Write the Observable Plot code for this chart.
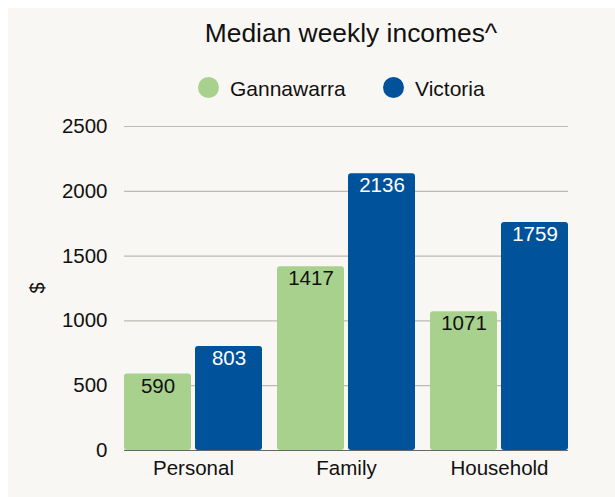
<!DOCTYPE html>
<html>
<head>
<meta charset="utf-8">
<script src="https://cdn.jsdelivr.net/npm/d3@7"></script>
<script src="https://cdn.jsdelivr.net/npm/@observablehq/plot@0.6"></script>
<style>
  html, body { margin: 0; padding: 0; background: #ffffff; }
  body { width: 615px; height: 497px; overflow: hidden; position: relative; font-family: "Liberation Sans", Arial, sans-serif; }
  #panel { position: absolute; left: 8px; top: 8px; width: 607px; height: 489px; background: #f9f7f3; overflow: hidden; }
  #title { position: absolute; left: 143px; width: 400px; top: 12px; text-align: center; font-size: 26.4px; line-height: 26px; color: #111; white-space: nowrap; }
  .dot { position: absolute; width: 21px; height: 21px; border-radius: 50%; }
  .lg { position: absolute; font-size: 21px; line-height: 21px; color: #111; white-space: nowrap; }
  #ylab { position: absolute; left: 19px; top: 270px; width: 20px; height: 20px; font-size: 20px; line-height: 20px; text-align: center; transform: rotate(-90deg); color: #111; }
  #chart { position: absolute; left: 0; top: 0; }
</style>
</head>
<body>
<div id="panel">
  <div id="title">Median weekly incomes^</div>
  <div class="dot" style="left:190px; top:69px; background:#a9d18e"></div>
  <div class="lg" style="left:222px; top:70px">Gannawarra</div>
  <div class="dot" style="left:375px; top:69px; background:#00529b"></div>
  <div class="lg" style="left:407px; top:70px">Victoria</div>
  <div id="ylab">$</div>
  <div id="chart"></div>
</div>
<script>
const categories = ["Personal", "Family", "Household"];
const gannawarra = [590, 1417, 1071];
const victoria = [803, 2136, 1759];
const yTicks = [0, 500, 1000, 1500, 2000, 2500];

const green = "#a9d18e";
const blue = "#00529b";

const gData = categories.map((c, i) => ({category: c, value: gannawarra[i]}));
const vData = categories.map((c, i) => ({category: c, value: victoria[i]}));

const plot = Plot.plot({
  width: 607,
  height: 489,
  marginLeft: 116,
  marginRight: 47,
  marginTop: 118,
  marginBottom: 47,
  style: {background: "transparent", fontFamily: "'Liberation Sans', Arial, sans-serif", fontSize: "20.5px", color: "#111"},
  x: {domain: categories, paddingInner: 0.098, paddingOuter: 0, round: false, label: null, tickSize: 0, tickPadding: 10},
  y: {domain: [0, 2500], ticks: yTicks, tickFormat: d => String(d), label: null, tickSize: 0, tickPadding: 17},
  marks: [
    Plot.ruleY(yTicks.slice(1), {stroke: "#bdb9b4", strokeWidth: 1.2}),
    Plot.barY(gData, {x: "category", y: "value", fill: green, insetRight: 71, rx: 3}),
    Plot.barY(vData, {x: "category", y: "value", fill: blue, insetLeft: 71, rx: 3}),
    Plot.ruleY([0], {stroke: "#666", strokeWidth: 1}),
    Plot.text(gData, {x: "category", y: "value", text: d => String(d.value), dx: -35.5, dy: 4, lineAnchor: "top", fill: "#111", fontSize: 20.5}),
    Plot.text(vData, {x: "category", y: "value", text: d => String(d.value), dx: 35.5, dy: 4, lineAnchor: "top", fill: "#ffffff", fontSize: 20.5})
  ]
});
document.getElementById("chart").appendChild(plot);
</script>
</body>
</html>
